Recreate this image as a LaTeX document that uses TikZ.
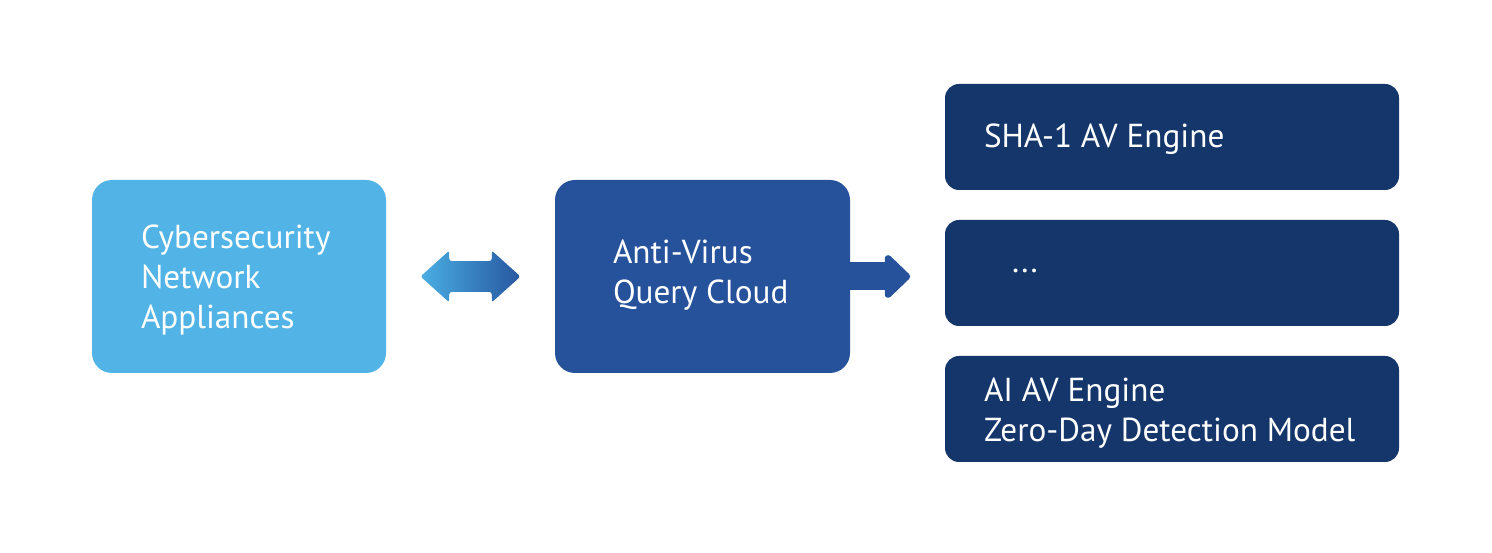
\documentclass[tikz,border=0pt]{standalone}
\usepackage{fontspec}
\setmainfont{PT Sans}
\usepackage{tikz}
\usetikzlibrary{positioning,arrows.meta,shapes.arrows,calc}
\definecolor{skyblue}{HTML}{51B3E6}
\definecolor{cloudblue}{HTML}{26529C}
\definecolor{navyblue}{HTML}{14366A}
\definecolor{linkleft}{HTML}{4AAEE3}
\definecolor{linkright}{HTML}{2757A0}
\tikzset{
  devicebox/.style={rounded corners=0.4cm, fill=skyblue, minimum width=5.88cm, minimum height=3.86cm},
  cloudbox/.style={rounded corners=0.4cm, fill=cloudblue, minimum width=5.90cm, minimum height=3.86cm},
  enginebox/.style={rounded corners=0.28cm, fill=navyblue, minimum width=9.08cm, minimum height=2.12cm},
  boxtext/.style={anchor=west, text=white, align=left, inner sep=0pt},
  duplex/.style={double arrow, double arrow head extend=0.21cm, double arrow tip angle=84, minimum height=2.0cm, inner xsep=0pt, inner ysep=0.3cm, rounded corners=1.5pt, left color=linkleft, right color=linkright},
  flowarrow/.style={-{Triangle[length=0.54cm, width=1.0cm, round]}, line width=0.56cm, cloudblue}
}
\begin{document}
\begin{tikzpicture}[>=Latex, every node/.style={font=\fontsize{18.9}{23}\selectfont}]
  \useasboundingbox (0,0) rectangle (29.84,11.06);
  \node[devicebox] (device) at (4.78,5.53) {};
  \node[cloudbox] (cloud) at (14.05,5.53) {};
  \node[enginebox] (sha) at (23.44,8.32) {};
  \node[enginebox] (more) at (23.44,5.60) {};
  \node[enginebox] (ai) at (23.44,2.88) {};
  \node[boxtext] (devicetext) at ([xshift=0.98cm, yshift=-0.07cm]device.west) {Cybersecurity\\Network\\Appliances};
  \node[boxtext] (cloudtext) at ([xshift=1.16cm, yshift=0.03cm]cloud.west) {Anti-Virus\\Query Cloud};
  \node[boxtext] (shatext) at ([xshift=0.78cm, yshift=-0.05cm]sha.west) {SHA-1 AV Engine};
  \node[boxtext] (moretext) at ([xshift=1.34cm, yshift=0.04cm]more.west) {...};
  \node[boxtext] (aitext) at ([xshift=0.78cm, yshift=-0.08cm]ai.west) {AI AV Engine\\Zero-Day Detection Model};
  \node[duplex] (link) at ($(device.east)!0.5!(cloud.west)$) {};
  \draw[flowarrow, shorten >=0.69cm] (cloud.east) -- (cloud.east -| more.west);
\end{tikzpicture}
\end{document}
